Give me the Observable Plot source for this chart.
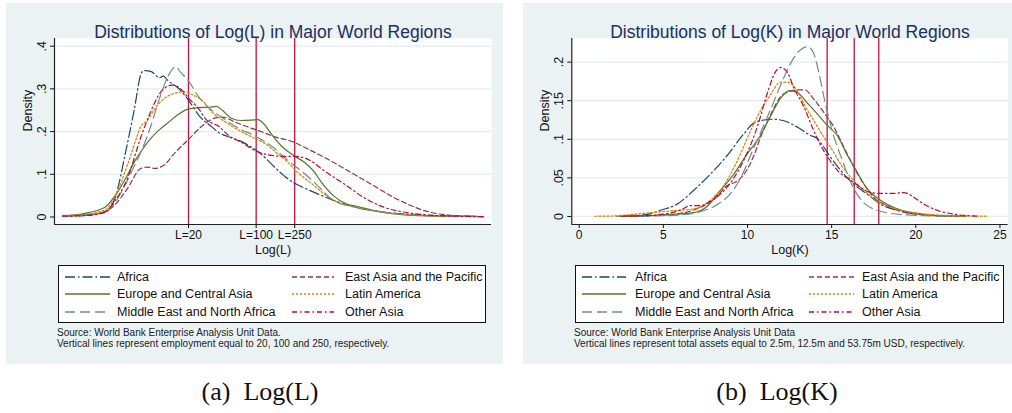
<!DOCTYPE html>
<html><head><meta charset="utf-8">
<script src="https://cdn.jsdelivr.net/npm/d3@7"></script>
<script src="https://cdn.jsdelivr.net/npm/@observablehq/plot@0.6"></script>
<style>
body{margin:0;background:#fff;font-family:"Liberation Sans",Arial,Helvetica,sans-serif;}
#page{position:relative;width:1012px;height:413px;overflow:hidden;background:#fff;}
.panel{position:absolute;background:#eaf2f3;}
.plotwrap{position:absolute;}
.plotwrap svg{display:block;}
.legend{position:absolute;background:#fff;border:1px solid #111;box-sizing:border-box;}
.legend .lab{position:absolute;font-size:12.5px;color:#111;white-space:nowrap;height:14px;line-height:14px;}
.legend svg{position:absolute;}
.note{position:absolute;font-size:10px;line-height:10.7px;color:#222;white-space:nowrap;}
.cap{position:absolute;font-family:"Liberation Serif","Times New Roman",serif;font-size:26px;color:#111;white-space:pre;text-align:center;width:240px;}
</style></head>
<body><div id="page"></div>
<script>
// ---------- categories & styling ----------
const regions = ["Africa","East Asia and the Pacific","Europe and Central Asia","Latin America","Middle East and North Africa","Other Asia"];
const regionColors = ["#1a476f","#90353b","#55752f","#e37e00","#6e8e84","#c10534"];
const regionDashes = ["10,3,1.5,3","5,3",null,"2,2","10,5","5,3,1.5,3"];

// ---------- Log(L) densities: [log(L), density] ----------
const L_africa = [[0,.002],[0.5,.004],[1.0,.012],[1.25,.045],[1.5,.152],[1.7,.248],[1.88,.338],[1.95,.343],[2.1,.341],[2.2,.334],[2.29,.326],[2.4,.330],[2.5,.320],[2.75,.302],[3.0,.273],[3.25,.237],[3.5,.215],[3.75,.196],[4.0,.186],[4.25,.177],[4.5,.163],[4.75,.145],[5.0,.121],[5.25,.098],[5.5,.080],[5.75,.068],[6.0,.057],[6.5,.037],[7.0,.022],[7.5,.013],[8.0,.008],[8.5,.005],[9.0,.003],[10,.001]];
const L_eastAsia = [[0,.002],[0.5,.004],[1.0,.012],[1.26,.030],[1.54,.066],[1.85,.113],[2.01,.117],[2.2,.114],[2.41,.121],[2.65,.148],[3.0,.182],[3.32,.213],[3.64,.232],[3.8,.234],[4.11,.222],[4.43,.210],[4.75,.199],[5.07,.187],[5.42,.178],[5.9,.156],[6.37,.132],[6.85,.105],[7.32,.078],[7.8,.050],[8.28,.027],[8.75,.011],[9.23,.004],[10,.001]];
const L_europe = [[0,.003],[0.5,.008],[1.0,.022],[1.25,.050],[1.5,.090],[1.7,.128],[1.9,.158],[2.1,.184],[2.3,.204],[2.5,.220],[2.75,.240],[3.0,.253],[3.25,.256],[3.5,.257],[3.66,.259],[3.8,.250],[4.0,.232],[4.25,.226],[4.5,.227],[4.65,.228],[4.75,.222],[5.0,.190],[5.25,.162],[5.5,.144],[5.75,.128],[6.0,.104],[6.13,.085],[6.44,.050],[6.75,.031],[7.0,.025],[7.5,.013],[8.0,.006],[8.5,.003],[9.0,.002],[10,.001]];
const L_latin = [[0,.003],[0.5,.006],[1.0,.016],[1.26,.050],[1.54,.121],[1.78,.191],[1.86,.212],[2.01,.225],[2.17,.250],[2.41,.277],[2.65,.289],[2.88,.293],[3.12,.285],[3.32,.273],[3.56,.245],[3.88,.222],[4.19,.203],[4.51,.187],[4.83,.171],[5.07,.152],[5.38,.126],[5.52,.111],[5.9,.080],[6.44,.040],[7.01,.023],[7.8,.009],[8.51,.004],[9.23,.002],[10,.001]];
const L_midEast = [[0,.002],[0.5,.005],[1.0,.010],[1.25,.034],[1.5,.077],[1.7,.118],[1.9,.160],[2.1,.213],[2.3,.276],[2.5,.328],[2.62,.347],[2.69,.352],[2.8,.340],[3.0,.318],[3.25,.280],[3.5,.254],[3.75,.236],[4.0,.219],[4.25,.204],[4.5,.194],[4.75,.180],[5.0,.164],[5.25,.142],[5.5,.121],[5.75,.102],[6.0,.080],[6.44,.039],[7.0,.022],[7.5,.013],[8.0,.007],[8.5,.004],[9.0,.002],[10,.001]];
const L_other = [[0,.002],[0.5,.003],[1.0,.010],[1.26,.040],[1.54,.089],[1.85,.183],[2.09,.245],[2.33,.292],[2.61,.309],[2.81,.300],[3.0,.278],[3.24,.253],[3.4,.230],[3.72,.212],[3.95,.191],[4.27,.174],[4.61,.154],[4.87,.146],[5.26,.142],[5.52,.142],[5.9,.132],[6.21,.109],[6.69,.078],[7.16,.046],[7.64,.023],[8.28,.009],[8.99,.003],[10,.001]];

// ---------- Log(K) densities: [log(K), density] ----------
const K_africa = [[2.7,.0005],[3.84,.002],[4.83,.008],[5.82,.016],[6.81,.034],[7.8,.055],[8.79,.079],[9.78,.107],[10.37,.121],[10.97,.125],[11.56,.126],[12.16,.124],[12.95,.116],[13.74,.105],[14.14,.101],[14.53,.090],[14.93,.077],[15.53,.060],[16.32,.042],[17.11,.029],[17.9,.016],[18.89,.008],[20.08,.003],[21.27,.001],[22.5,.0003]];
const K_eastAsia = [[3.0,.0003],[5.0,.002],[6.0,.004],[7.0,.010],[8.0,.022],[8.8,.040],[9.4,.046],[9.9,.058],[10.4,.080],[10.8,.104],[11.4,.133],[11.96,.155],[12.5,.162],[13.0,.164],[13.4,.164],[13.94,.152],[14.53,.135],[15.13,.116],[15.72,.090],[16.32,.064],[16.91,.042],[17.5,.025],[18.3,.014],[19.3,.0055],[20.5,.002],[22,.0005]];
const K_europe = [[2.2,.0003],[4.0,.001],[5.03,.002],[5.82,.003],[6.81,.005],[7.6,.013],[8.4,.034],[9.19,.055],[9.98,.081],[10.77,.105],[11.37,.130],[11.96,.153],[12.48,.163],[12.95,.161],[13.55,.147],[14.14,.133],[14.74,.118],[15.33,.105],[15.92,.080],[16.37,.063],[17.11,.036],[17.9,.021],[18.89,.010],[20.08,.004],[21.27,.001],[23,.0002]];
const K_latin = [[0.93,.0003],[1.86,.0005],[2.8,.002],[3.84,.004],[4.8,.006],[5.82,.008],[6.81,.010],[7.8,.021],[8.79,.047],[9.58,.081],[10.18,.111],[10.77,.137],[11.37,.158],[11.96,.174],[12.36,.174],[12.95,.163],[13.35,.146],[13.94,.124],[14.53,.103],[14.93,.090],[15.53,.068],[16.12,.051],[16.71,.038],[17.5,.023],[18.5,.012],[19.69,.0055],[21.27,.002],[22.8,.0008],[24.2,.0003]];
const K_midEast = [[3.5,.0003],[5.0,.001],[6.0,.002],[6.8,.004],[7.6,.009],[8.4,.018],[9.0,.030],[9.6,.050],[10.2,.080],[10.8,.110],[11.4,.140],[12.0,.172],[12.6,.200],[13.1,.215],[13.55,.220],[13.9,.213],[14.2,.190],[14.63,.146],[15.03,.111],[15.63,.073],[16.22,.040],[16.9,.018],[17.7,.008],[18.5,.004],[19.5,.002],[20.5,.001],[22,.0003]];
const K_other = [[2.5,.0003],[4.0,.001],[5.0,.003],[6.0,.008],[6.6,.014],[7.2,.014],[7.8,.020],[8.79,.038],[9.78,.073],[10.58,.116],[11.17,.159],[11.6,.185],[11.96,.193],[12.36,.187],[12.75,.167],[13.35,.142],[13.94,.111],[14.53,.085],[14.83,.075],[15.33,.060],[16.12,.047],[16.71,.038],[17.31,.031],[17.9,.030],[18.69,.030],[19.29,.031],[19.88,.025],[20.47,.016],[21.27,.008],[22.26,.003],[23.6,.0005]];

// ---------- ticks & thresholds ----------
const lYTicks = [0, 0.1, 0.2, 0.3, 0.4];
const kYTicks = [0, 0.05, 0.1, 0.15, 0.2];
const lThresholds = [20, 100, 250];            // employment
const lTickLabels = ["L=20", "L=100", "L=250"];
const kThresholds = [2.5e6, 12.5e6, 53.75e6];  // total assets, USD
const kXTicks = [0, 5, 10, 15, 20, 25];

const titles = ["Distributions of Log(L) in Major World Regions", "Distributions of Log(K) in Major World Regions"];
const xLabels = ["Log(L)", "Log(K)"];
const notesL = ["Source: World Bank Enterprise Analysis Unit Data.", "Vertical lines represent employment equal to 20, 100 and 250, respectively."];
const notesK = ["Source: World Bank Enterprise Analysis Unit Data", "Vertical lines represent total assets equal to 2.5m, 12.5m and 53.75m USD, respectively."];
const captions = ["(a)  Log(L)", "(b)  Log(K)"];

// ---------- drawing ----------
const page = document.getElementById("page");
const gridColor = "#e3ecee";
const vlineColor = "#c8103e";
const titleColor = "#1c2f60";
const yFmt = d => d === 0 ? "0" : String(+d.toFixed(3)).replace(/^0\./, ".");

function el(tag, cls, style, parent) {
  const e = document.createElement(tag);
  if (cls) e.className = cls;
  Object.assign(e.style, style || {});
  (parent || page).appendChild(e);
  return e;
}

function makePlot(o) {
  const marks = [
    Plot.frame({fill: "white", stroke: "none"}),
    Plot.gridY(o.yTicks, {stroke: gridColor, strokeOpacity: 1, strokeWidth: 1.2}),
    Plot.ruleX(o.vlines, {stroke: vlineColor, strokeWidth: 1.3})
  ];
  o.series.forEach((s, i) => {
    marks.push(Plot.line(s, {x: d => d[0], y: d => d[1], stroke: regionColors[i], strokeWidth: 1.2,
      strokeDasharray: regionDashes[i] || undefined, curve: "monotone-x"}));
  });
  marks.push(
    Plot.ruleY([o.yDomain[0]], {stroke: "#222", strokeWidth: 1.2}),
    Plot.ruleX([o.xDomain[0]], {stroke: "#222", strokeWidth: 1.2}),
    Plot.axisY({anchor: "left", ticks: o.yTicks, tickFormat: yFmt, tickSize: 4, tickRotate: -90, label: null, fontSize: 12.5, color: "#111"}),
    Plot.axisX({anchor: "bottom", ticks: o.xTickVals, tickFormat: o.xTickFormat, tickSize: 4, tickPadding: 2, label: null, fontSize: 12, color: "#111"}),
    Plot.text([o.title], {frameAnchor: "top", dy: -13, fontSize: 17.5, fill: titleColor}),
    Plot.text([o.xLabel], {frameAnchor: "bottom", dy: 29, fontSize: 12.5, fill: "#111"}),
    Plot.text(["Density"], {frameAnchor: "left", dx: -27, rotate: -90, fontSize: 12.5, fill: "#111"})
  );
  return Plot.plot({
    width: o.width, height: o.height,
    marginLeft: o.ml, marginRight: o.mr, marginTop: o.mt, marginBottom: o.mb,
    x: {domain: o.xDomain, axis: null},
    y: {domain: o.yDomain, axis: null},
    style: {background: "transparent", fontFamily: "'Liberation Sans', Arial, sans-serif", overflow: "visible"},
    marks
  });
}

function legend(box, cols) {
  const lg = el("div", "legend", {left: box[0] + "px", top: box[1] + "px", width: box[2] + "px", height: box[3] + "px"});
  const rowY = [11.7, 29.3, 46.7];
  regions.forEach((r, i) => {
    const col = i % 2, row = Math.floor(i / 2);
    const c = cols[col];
    const sv = document.createElementNS("http://www.w3.org/2000/svg", "svg");
    sv.setAttribute("width", c.sw); sv.setAttribute("height", 6);
    sv.style.left = c.sx + "px"; sv.style.top = (rowY[row] - 4) + "px";
    const ln = document.createElementNS("http://www.w3.org/2000/svg", "line");
    ln.setAttribute("x1", 0); ln.setAttribute("x2", c.sw); ln.setAttribute("y1", 3); ln.setAttribute("y2", 3);
    ln.setAttribute("stroke", regionColors[i]); ln.setAttribute("stroke-width", 1.3);
    if (regionDashes[i]) ln.setAttribute("stroke-dasharray", regionDashes[i]);
    sv.appendChild(ln); lg.appendChild(sv);
    const t = el("div", "lab", {left: c.tx + "px", top: (rowY[row] - 8) + "px"}, lg);
    t.textContent = r;
  });
}

function notes(x, y, lines) {
  const n = el("div", "note", {left: x + "px", top: y + "px"});
  n.innerHTML = lines.map(s => s.replace(/&/g, "&amp;")).join("<br>");
}

// Left panel
const lLog = lThresholds.map(Math.log);
el("div", "panel", {left: "6px", top: "3px", width: "497px", height: "361px"});
const wL = el("div", "plotwrap", {left: "6px", top: "3px"});
wL.appendChild(makePlot({
  series: [L_africa, L_eastAsia, L_europe, L_latin, L_midEast, L_other],
  width: 497, height: 259, ml: 48, mr: 12, mt: 35, mb: 38,
  xDomain: [-0.191, 10.202], yDomain: [-0.0176, 0.418],
  yTicks: lYTicks,
  xTickVals: lLog,
  xTickFormat: d => lTickLabels[lLog.findIndex(v => Math.abs(v - d) < 1e-9)],
  vlines: lLog,
  title: titles[0], xLabel: xLabels[0]
}));
legend([58, 265, 428, 58], [{sx: 6, sw: 45, tx: 58}, {sx: 233, sw: 42, tx: 286}]);
notes(57, 328, notesL);

// Right panel
el("div", "panel", {left: "523px", top: "3px", width: "489px", height: "361px"});
const wK = el("div", "plotwrap", {left: "523px", top: "3px"});
wK.appendChild(makePlot({
  series: [K_africa, K_eastAsia, K_europe, K_latin, K_midEast, K_other],
  width: 489, height: 259, ml: 48.3, mr: 4.3, mt: 35, mb: 38,
  xDomain: [-0.44, 25.49], yDomain: [-0.0104, 0.2306],
  yTicks: kYTicks,
  xTickVals: kXTicks,
  xTickFormat: d => String(d),
  vlines: kThresholds.map(Math.log),
  title: titles[1], xLabel: xLabels[1]
}));
legend([575, 265, 429, 58], [{sx: 6, sw: 44, tx: 59}, {sx: 233, sw: 45, tx: 286}]);
notes(574, 328, notesK);

// Captions
const c1 = el("div", "cap", {left: (260 - 120) + "px", top: "377px"}); c1.textContent = captions[0];
const c2 = el("div", "cap", {left: (777 - 120) + "px", top: "377px"}); c2.textContent = captions[1];
</script>
</body></html>
